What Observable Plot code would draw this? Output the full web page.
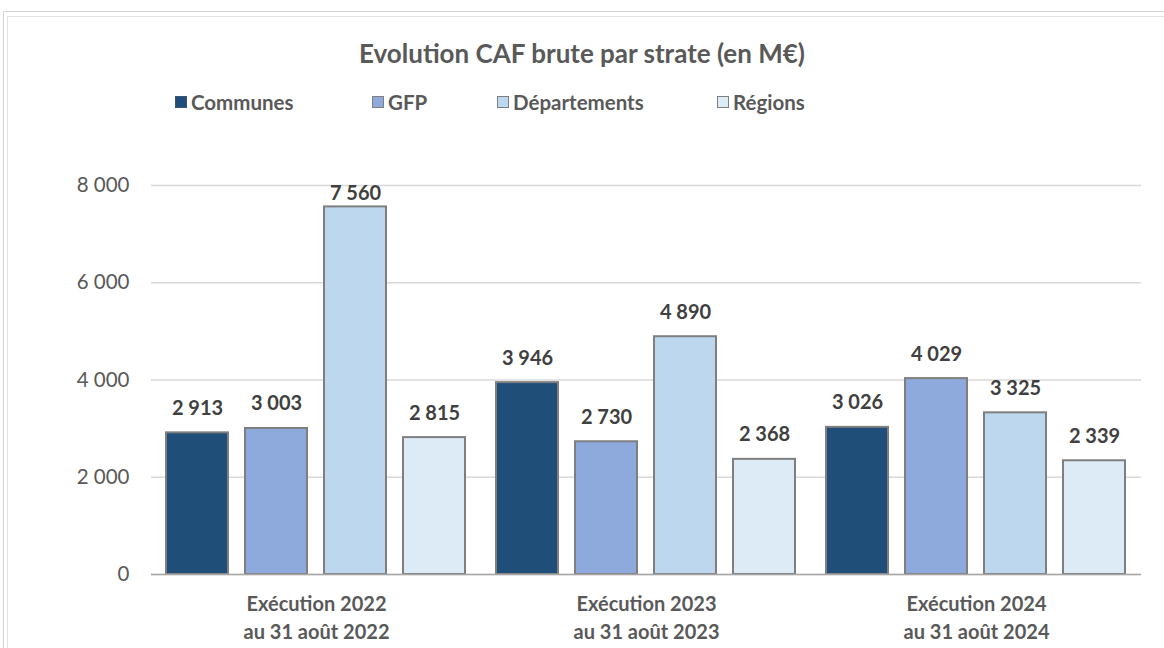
<!DOCTYPE html>
<html>
<head>
<meta charset="utf-8">
<script src="https://cdn.jsdelivr.net/npm/d3@7"></script>
<script src="https://cdn.jsdelivr.net/npm/@observablehq/plot@0.6"></script>
<style>
  body { margin:0; background:#fff; font-family: Lato, "Noto Sans", sans-serif; }
  #wrap { position:relative; width:1164px; height:648px; overflow:hidden; background:#fff; }
  .frame1 { position:absolute; left:3px; top:11px; width:1200px; height:700px; border:1.5px solid #d4d4d4; }
  .frame2 { position:absolute; left:7px; top:16px; width:1200px; height:700px; border:1px solid #e2e2e2; }
  #head { position:relative; height:130px; }
  #title { position:absolute; left:0; width:1164px; top:40px; line-height:26px; text-align:center; font-size:26px; font-weight:bold; color:#595959; }
  .leg { position:absolute; top:92px; line-height:20px; font-size:20.5px; font-weight:bold; color:#595959; white-space:nowrap; display:flex; align-items:center; }
  .sw { display:inline-block; width:10px; height:10px; border:1.5px solid #7f7f7f; margin-right:4px; }
  #chart { position:relative; }
</style>
</head>
<body>
<div id="wrap">
  <div class="frame1"></div>
  <div class="frame2"></div>
  <div id="head">
    <div id="title">Evolution CAF brute par strate (en M€)</div>
    <div id="legend"></div>
  </div>
  <div id="chart"></div>
</div>
<script>
const groups = ["Exécution 2022\nau 31 août 2022", "Exécution 2023\nau 31 août 2023", "Exécution 2024\nau 31 août 2024"];
const series = ["Communes", "GFP", "Départements", "Régions"];
const communes = [2913, 3946, 3026];
const gfp = [3003, 2730, 4029];
const departements = [7560, 4890, 3325];
const regions = [2815, 2368, 2339];
const colors = ["#1F4E79", "#8EA9DB", "#BDD7EE", "#DDEBF7"];
const yTicks = [0, 2000, 4000, 6000, 8000];
const legendLeft = [175, 372, 497, 717];

const valuesBySeries = [communes, gfp, departements, regions];
const data = [];
groups.forEach((g, i) => series.forEach((s, j) => data.push({group: g, series: s, value: valuesBySeries[j][i]})));

const fmt = v => d3.format(",")(v).replace(/,/g, " ");

// legend
const leg = document.getElementById("legend");
series.forEach((s, i) => {
  const d = document.createElement("div");
  d.className = "leg";
  d.style.left = legendLeft[i] + "px";
  const sw = document.createElement("span");
  sw.className = "sw";
  sw.style.background = colors[i];
  if (i === 0) sw.style.borderColor = "#3a5670";
  d.appendChild(sw);
  d.appendChild(document.createTextNode(s));
  leg.appendChild(d);
});

const yMax = 8000;
const chart = Plot.plot({
  width: 1164,
  height: 518,
  marginTop: 55,
  marginBottom: 74,
  marginLeft: 150,
  marginRight: 23,
  style: {fontFamily: "Lato, 'Noto Sans', sans-serif", background: "transparent", overflow: "visible"},
  fx: {domain: groups, padding: 0, label: null},
  x: {domain: series, paddingInner: 0.215, paddingOuter: 0.196, axis: null},
  y: {domain: [0, yMax], label: null},
  color: {domain: series, range: colors},
  marks: [
    Plot.gridY(yTicks, {stroke: "#d9d9d9", strokeOpacity: 1, strokeWidth: 1.3}),
    Plot.axisY(yTicks, {tickSize: 0, tickPadding: 22, fontSize: 20.5, fill: "#595959", tickFormat: fmt, label: null}),
    Plot.axisFx({anchor: "bottom", tickSize: 0, tickPadding: 16, fontSize: 20, fontWeight: "bold", fill: "#595959", lineHeight: 1.42, label: null}),
    Plot.barY(data, {fx: "group", x: "series", y: "value", fill: "series", stroke: "#7f7f7f", strokeWidth: 2}),
    Plot.ruleY([0], {stroke: "#a6a6a6", strokeWidth: 1.5}),
    Plot.text(data, {
      fx: "group", x: "series",
      y: d => Math.min(d.value + 370, yMax - 288),
      text: d => fmt(d.value),
      lineAnchor: "bottom",
      fontSize: 20, fontWeight: "bold", fill: "#404040"
    })
  ]
});
document.getElementById("chart").appendChild(chart);
</script>
</body>
</html>
